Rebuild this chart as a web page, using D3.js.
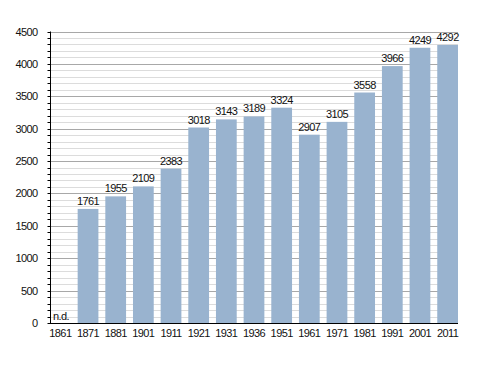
<!DOCTYPE html>
<html>
<head>
<meta charset="utf-8">
<script src="https://cdn.jsdelivr.net/npm/d3@7"></script>
<style>
  body { margin: 0; background: #fff; }
  text { font-family: "Liberation Sans", Arial, sans-serif; font-size: 11px; letter-spacing: -0.6px; fill: #111; }
</style>
</head>
<body>
<div id="chart"></div>
<script>
// census years and population (1861 not available)
var years = ["1861", "1871", "1881", "1901", "1911", "1921", "1931", "1936", "1951", "1961", "1971", "1981", "1991", "2001", "2011"];
var population = [null, 1761, 1955, 2109, 2383, 3018, 3143, 3189, 3324, 2907, 3105, 3558, 3966, 4249, 4292];
var yTicks = [0, 500, 1000, 1500, 2000, 2500, 3000, 3500, 4000, 4500];

var width = 488, height = 373;
var plotLeft = 50, plotRight = 458, plotTop = 31.5, plotBottom = 323;

var svg = d3.select("#chart").append("svg")
  .attr("width", width)
  .attr("height", height);

var x = d3.scaleBand()
  .domain(years)
  .range([plotLeft, plotRight])
  .paddingInner(0.25)
  .paddingOuter(0);

var y = d3.scaleLinear()
  .domain([0, 4500])
  .range([plotBottom, plotTop]);

var minor = d3.range(0, 4501, 100);

// minor grid
svg.append("g")
  .selectAll("line")
  .data(minor.filter(function (v) { return v % 500 !== 0; }))
  .enter().append("line")
  .attr("x1", plotLeft).attr("x2", plotRight)
  .attr("y1", function (d) { return Math.round(y(d)) + 0.5; })
  .attr("y2", function (d) { return Math.round(y(d)) + 0.5; })
  .attr("stroke", "#dcdcdc")
  .attr("stroke-width", 1);

// major grid
svg.append("g")
  .selectAll("line")
  .data(yTicks.filter(function (v) { return v > 0; }))
  .enter().append("line")
  .attr("x1", plotLeft).attr("x2", plotRight)
  .attr("y1", function (d) { return Math.round(y(d)) + 0.5; })
  .attr("y2", function (d) { return Math.round(y(d)) + 0.5; })
  .attr("stroke", "#a8a8a8")
  .attr("stroke-width", 1);

var rows = years.map(function (yr, i) { return { year: yr, value: population[i] }; });

svg.append("g")
  .selectAll("rect")
  .data(rows.filter(function (d) { return d.value != null; }))
  .enter().append("rect")
  .attr("x", function (d) { return x(d.year); })
  .attr("width", x.bandwidth())
  .attr("y", function (d) { return y(d.value); })
  .attr("height", function (d) { return plotBottom - y(d.value); })
  .attr("fill", "#99b3cf");

// value labels
svg.append("g")
  .selectAll("text")
  .data(rows.filter(function (d) { return d.value != null; }))
  .enter().append("text")
  .attr("x", function (d) { return x(d.year) + x.bandwidth() / 2; })
  .attr("y", function (d) { return y(d.value) - 4; })
  .attr("text-anchor", "middle")
  .text(function (d) { return d.value; });

svg.append("text")
  .attr("x", x("1861") + 3)
  .attr("y", plotBottom - 3)
  .text("n.d.");

// y axis with minor ticks
var yAxisG = svg.append("g").attr("transform", "translate(" + (plotLeft + 0.5) + ",0)");
yAxisG.append("line")
  .attr("y1", plotTop).attr("y2", plotBottom)
  .attr("stroke", "#000");
yAxisG.selectAll("line.tick")
  .data(minor)
  .enter().append("line")
  .attr("class", "tick")
  .attr("x1", -3).attr("x2", 0)
  .attr("y1", function (d) { return Math.round(y(d)) + 0.5; })
  .attr("y2", function (d) { return Math.round(y(d)) + 0.5; })
  .attr("stroke", "#000");
yAxisG.selectAll("text")
  .data(yTicks)
  .enter().append("text")
  .attr("x", -13)
  .attr("y", function (d) { return y(d) + 4; })
  .attr("text-anchor", "end")
  .text(function (d) { return d; });

// x axis
svg.append("line")
  .attr("x1", plotLeft).attr("x2", plotRight)
  .attr("y1", plotBottom + 0.5).attr("y2", plotBottom + 0.5)
  .attr("stroke", "#000");

svg.append("g")
  .selectAll("text")
  .data(years)
  .enter().append("text")
  .attr("x", function (d) { return x(d) + x.bandwidth() / 2; })
  .attr("y", plotBottom + 14)
  .attr("text-anchor", "middle")
  .text(function (d) { return d; });
</script>
</body>
</html>
